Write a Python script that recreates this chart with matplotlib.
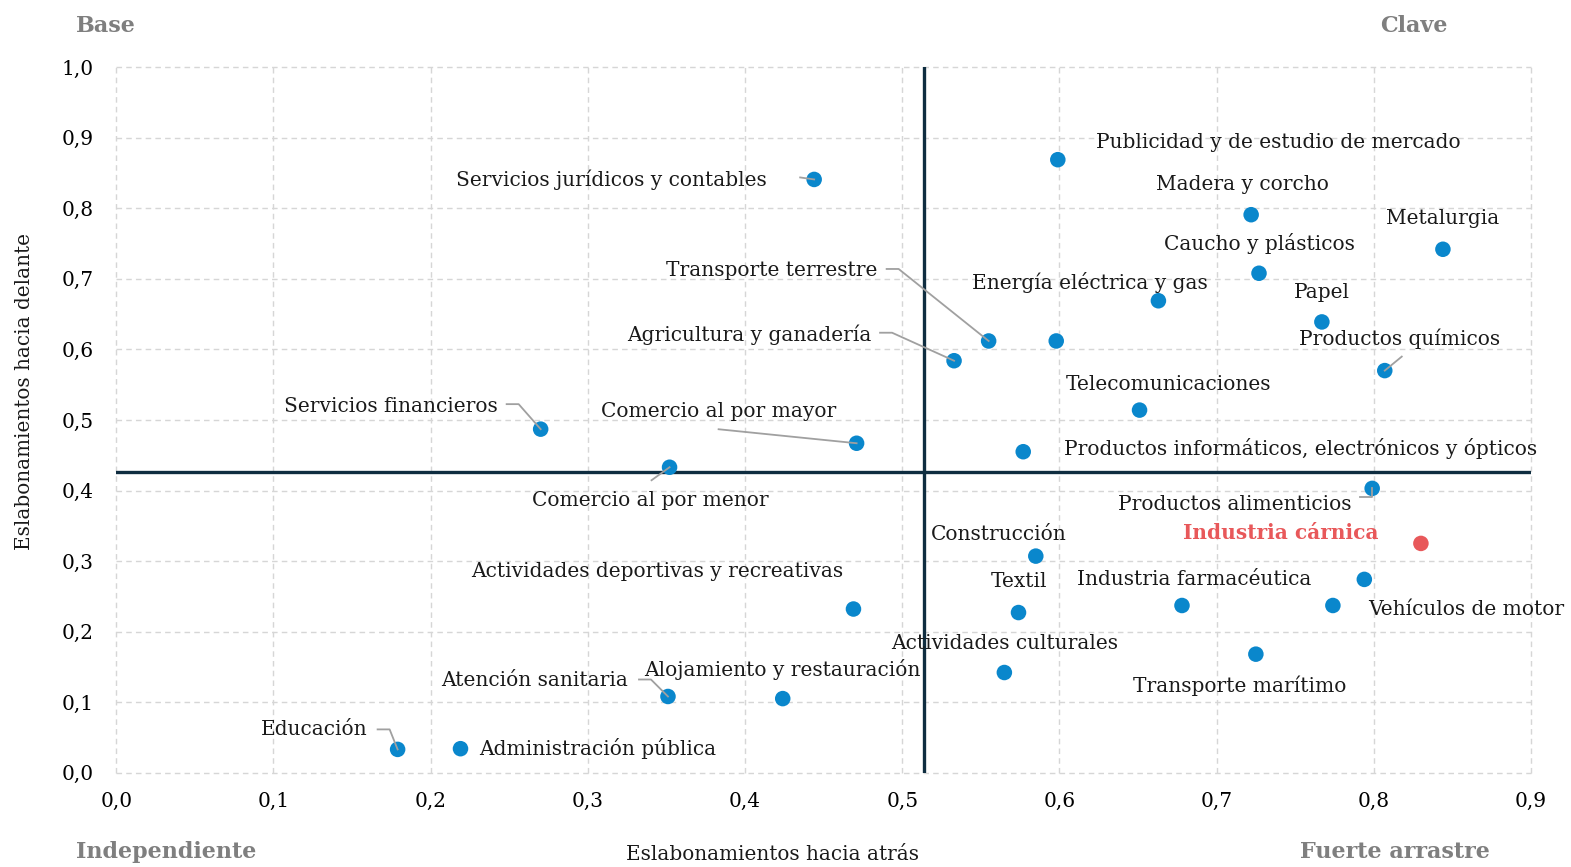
import matplotlib
matplotlib.use("Agg")
import matplotlib.pyplot as plt
from matplotlib.ticker import FuncFormatter

# ---------------- data ----------------
sectors = [
    "Servicios jurídicos y contables", "Publicidad y de estudio de mercado",
    "Madera y corcho", "Metalurgia", "Caucho y plásticos",
    "Energía eléctrica y gas", "Papel", "Transporte terrestre", "",
    "Agricultura y ganadería", "Productos químicos", "Telecomunicaciones",
    "Servicios financieros", "Comercio al por mayor",
    "Productos informáticos, electrónicos y ópticos", "Comercio al por menor",
    "Productos alimenticios", "Industria cárnica", "Construcción", "",
    "Actividades deportivas y recreativas", "Textil", "Industria farmacéutica",
    "Vehículos de motor", "Actividades culturales", "Transporte marítimo",
    "Atención sanitaria", "Alojamiento y restauración", "Educación",
    "Administración pública",
]
backward = [0.444, 0.599, 0.722, 0.844, 0.727, 0.663, 0.767, 0.555, 0.598,
            0.533, 0.807, 0.651, 0.270, 0.471, 0.577, 0.352, 0.799, 0.830,
            0.585, 0.794, 0.469, 0.574, 0.678, 0.774, 0.565, 0.725, 0.351,
            0.424, 0.179, 0.219]
forward = [0.841, 0.869, 0.791, 0.742, 0.708, 0.669, 0.639, 0.612, 0.612,
           0.584, 0.570, 0.514, 0.487, 0.467, 0.455, 0.433, 0.403, 0.325,
           0.307, 0.274, 0.232, 0.227, 0.237, 0.237, 0.142, 0.168, 0.108,
           0.105, 0.033, 0.034]
highlight = "Industria cárnica"
mean_backward = 0.514
mean_forward = 0.426

x_ticks = [0.0, 0.1, 0.2, 0.3, 0.4, 0.5, 0.6, 0.7, 0.8, 0.9]
y_ticks = [0.0, 0.1, 0.2, 0.3, 0.4, 0.5, 0.6, 0.7, 0.8, 0.9, 1.0]
x_label = "Eslabonamientos hacia atrás"
y_label = "Eslabonamientos hacia delante"
corners = ["Base", "Clave", "Independiente", "Fuerte arrastre"]

# ---------------- layout (pixel offsets of labels relative to points) ----------------
label_layout = {
    "Servicios jurídicos y contables": (-47, 1, "right", [(-14, 2), (0, 0)]),
    "Publicidad y de estudio de mercado": (38, 19, "left", None),
    "Madera y corcho": (-9, 32, "center", None),
    "Metalurgia": (0, 32, "center", None),
    "Caucho y plásticos": (0, 31, "center", None),
    "Energía eléctrica y gas": (-69, 20, "center", None),
    "Papel": (0, 31, "center", None),
    "Transporte terrestre": (-111, 72, "right", [(-102, 72), (-90, 72), (0, 0)]),
    "Agricultura y ganadería": (-83, 27, "right", [(-74, 28), (-62, 28), (0, 0)]),
    "Productos químicos": (15, 33, "center", [(17, 14), (0, 0)]),
    "Telecomunicaciones": (-74, 27, "left", None),
    "Servicios financieros": (-43, 24, "right", [(-34, 25), (-22, 25), (0, 0)]),
    "Comercio al por mayor": (-138, 33, "center", [(-138, 14), (0, 0)]),
    "Productos informáticos, electrónicos y ópticos": (41, 5, "left", None),
    "Comercio al por menor": (-19, -32, "center", [(-18, -13), (0, 0)]),
    "Productos alimenticios": (-21, -15, "right", [(-12, -9), (0, -9), (0, 0)]),
    "Industria cárnica": (-42, 12, "right", None),
    "Construcción": (-37, 23, "center", None),
    "Actividades deportivas y recreativas": (-196, 39, "center", None),
    "Textil": (0, 33, "center", None),
    "Industria farmacéutica": (12, 27, "center", None),
    "Vehículos de motor": (35, -3, "left", None),
    "Actividades culturales": (0, 31, "center", None),
    "Transporte marítimo": (-16, -30, "center", None),
    "Atención sanitaria": (-40, 17, "right", [(-29, 17), (-17, 17), (0, 0)]),
    "Alojamiento y restauración": (0, 31, "center", None),
    "Educación": (-30, 21, "right", [(-20, 20), (-8, 20), (0, 0)]),
    "Administración pública": (19, 2, "left", None),
}
TEXT_SHIFT = -1.5  # small vertical correction of label text (pixels)

BLUE = "#0a87cc"
RED = "#e8585a"
NAVY = "#0f2d40"
GRAY = "#7f7f7f"
SERIF = ["DejaVu Serif"]
FS = 14.5

fig = plt.figure(figsize=(15.71, 8.67), dpi=100)
ax = fig.add_axes([0.0740, 0.1088, 0.9745 - 0.0740, 0.9224 - 0.1088])
ax.set_xlim(0, 0.9)
ax.set_ylim(0, 1.0)

ax.set_xticks(x_ticks)
ax.set_yticks(y_ticks)
fmt = FuncFormatter(lambda v, p: f"{v:.1f}".replace(".", ","))
ax.xaxis.set_major_formatter(fmt)
ax.yaxis.set_major_formatter(fmt)
ax.tick_params(length=0, labelsize=FS)
ax.tick_params(axis="x", pad=14)
ax.tick_params(axis="y", pad=16)
for lab in ax.get_xticklabels() + ax.get_yticklabels():
    lab.set_fontfamily(SERIF)

for s in ax.spines.values():
    s.set_visible(False)
ax.grid(True, color="#d6d6d6", linestyle=(0, (4, 3)), linewidth=1.0)
for gl in ax.get_xgridlines() + ax.get_ygridlines():
    gl.set_clip_on(False)
ax.set_axisbelow(True)

ax.axvline(mean_backward, color=NAVY, linewidth=2.4, zorder=2)
ax.axhline(mean_forward, color=NAVY, linewidth=2.4, zorder=2)

colors = [RED if n == highlight else BLUE for n in sectors]
ax.scatter(backward, forward, s=125, c=colors, zorder=4, linewidths=0)

fig.canvas.draw()
W, H = fig.bbox.width, fig.bbox.height
for name, xv, yv in zip(sectors, backward, forward):
    if not name:
        continue
    dx, dy, ha, leader = label_layout[name]
    px, py = ax.transData.transform((xv, yv))
    is_hl = name == highlight
    fig.text((px + dx) / W, (py + dy + TEXT_SHIFT) / H, name,
             ha=ha, va="center", fontsize=FS, family=SERIF,
             color=RED if is_hl else "#1a1a1a",
             fontweight="bold" if is_hl else "normal", zorder=5)
    if leader:
        xs = [(px + a) / W for a, b in leader]
        ys = [(py + b) / H for a, b in leader]
        fig.add_artist(plt.Line2D(xs, ys, color="#a0a0a0", linewidth=1.3,
                                  transform=fig.transFigure, zorder=3))

fig.text(772 / 1571, 1 - 854 / 867, x_label, ha="center",
         va="center", fontsize=14.4, family=SERIF, color="#1a1a1a")
fig.text(25 / 1571, 1 - 392 / 867, y_label, ha="center", va="center",
         rotation=90, fontsize=14.4, family=SERIF, color="#1a1a1a")

cfg = dict(fontsize=16, fontweight="bold", family=SERIF, color=GRAY, va="center")
fig.text(76 / 1571, 1 - 26 / 867, corners[0], ha="left", **cfg)
fig.text(1448 / 1571, 1 - 26 / 867, corners[1], ha="right", **cfg)
fig.text(76 / 1571, 1 - 852 / 867, corners[2], ha="left", **cfg)
fig.text(1490 / 1571, 1 - 852 / 867, corners[3], ha="right", **cfg)

fig.savefig("out.png", dpi=100, facecolor="white")
